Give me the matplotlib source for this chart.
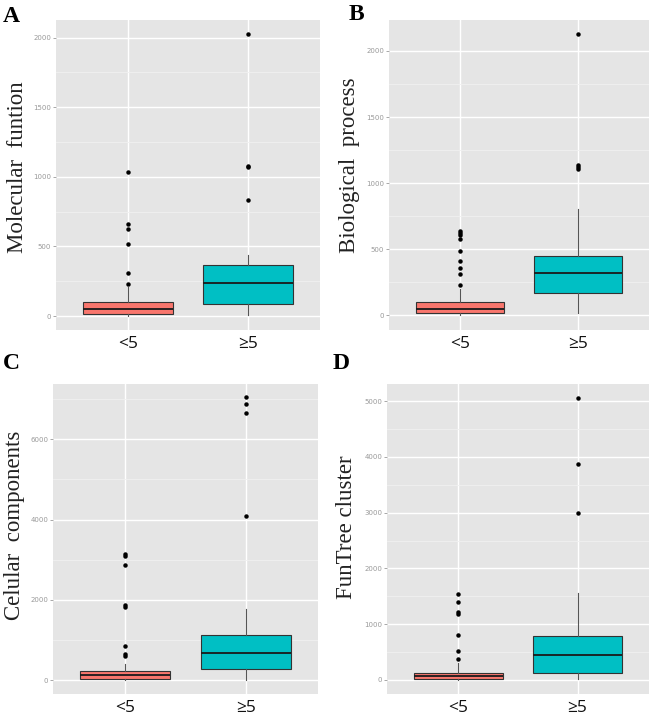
import matplotlib
matplotlib.use("Agg")
import matplotlib.pyplot as plt
from matplotlib.ticker import MultipleLocator

categories = ["<5", "≥5"]
colors = ["#F8766D", "#00BFC4"]

# Panel A: Molecular function
a_q1 = [12, 86]
a_med = [50, 237]
a_q3 = [98, 366]
a_whislo = [0, 7]
a_whishi = [208, 441]
a_fliers = [[1035, 665, 628, 518, 311, 230], [2025, 1075, 1068, 832]]

# Panel B: Biological process
b_q1 = [20, 169]
b_med = [50, 323]
b_q3 = [103, 451]
b_whislo = [0, 15]
b_whishi = [197, 802]
b_fliers = [[640, 625, 610, 580, 484, 411, 356, 313, 230], [2125, 1140, 1125, 1105]]

# Panel C: Celular components
c_q1 = [25, 283]
c_med = [125, 665]
c_q3 = [233, 1114]
c_whislo = [0, 0]
c_whishi = [400, 1770]
c_fliers = [[3150, 3100, 2875, 1870, 1812, 840, 656, 607], [7047, 6890, 6665, 4089]]

# Panel D: FunTree cluster
d_q1 = [12, 119]
d_med = [66, 454]
d_q3 = [131, 795]
d_whislo = [0, 18]
d_whishi = [305, 1553]
d_fliers = [[1547, 1404, 1220, 1180, 800, 514, 370], [5060, 3871, 2993]]

W, H = 652, 718
fig = plt.figure(figsize=(W / 100, H / 100), dpi=100)


def add_ax(x0, x1, y0, y1):
    return fig.add_axes([x0 / W, 1 - y1 / H, (x1 - x0) / W, (y1 - y0) / H])


def panel(ax, box, q1, med, q3, wlo, whi, fl, ylim, major, ylabel, labelx, labely):
    x0, x1, y0, y1 = box
    stats = []
    for i in range(2):
        stats.append(dict(q1=q1[i], med=med[i], q3=q3[i], whislo=wlo[i],
                          whishi=whi[i], fliers=fl[i]))
    ax.set_facecolor("#E5E5E5")
    ax.set_axisbelow(True)
    ax.yaxis.set_major_locator(MultipleLocator(major))
    ax.yaxis.set_minor_locator(MultipleLocator(major / 2))
    ax.grid(True, which="major", color="white", lw=1.0)
    ax.grid(True, which="minor", axis="y", color="#F0F0F0", lw=0.6)
    bp = ax.bxp(stats, positions=[1, 2], widths=0.75, patch_artist=True,
                showcaps=False,
                boxprops=dict(edgecolor="#333333", lw=0.8),
                medianprops=dict(color="#1a1a1a", lw=1.3),
                whiskerprops=dict(color="#555555", lw=0.8),
                flierprops=dict(marker="o", markerfacecolor="black",
                                markeredgecolor="black", markersize=2.2))
    for p, c in zip(bp["boxes"], colors):
        p.set_facecolor(c)
    ax.set_xlim(0.4, 2.6)
    ax.set_ylim(*ylim)
    ax.set_xticks([1, 2])
    ax.set_xticklabels(categories, fontsize=12.5, family="Open Sans",
                       color="#111111")
    for s in ax.spines.values():
        s.set_visible(False)
    ax.tick_params(axis="y", which="major", labelsize=5, colors="#999999",
                   length=2, width=0.6, pad=1.5)
    ax.tick_params(axis="y", which="minor", length=0)
    ax.tick_params(axis="x", length=0, pad=4)
    ax.set_ylabel(ylabel, family="Liberation Serif", fontsize=16.5,
                  color="#222222")
    ax.yaxis.label.set_va("center")
    ax.yaxis.set_label_coords((labelx - x0) / (x1 - x0),
                              (y1 - labely) / (y1 - y0))


boxA = (56, 320, 20, 330)
axA = add_ax(*boxA)
panel(axA, boxA, a_q1, a_med, a_q3, a_whislo, a_whishi, a_fliers, (-100, 2127), 500,
      "Molecular  funtion", 18, 167)

boxB = (389, 649, 20, 330)
axB = add_ax(*boxB)
panel(axB, boxB, b_q1, b_med, b_q3, b_whislo, b_whishi, b_fliers, (-111, 2234), 500,
      "Biological  process", 349, 165)

boxC = (53, 318, 384, 694)
axC = add_ax(*boxC)
panel(axC, boxC, c_q1, c_med, c_q3, c_whislo, c_whishi, c_fliers, (-349, 7380), 2000,
      "Celular  components", 15, 525)

boxD = (387, 649, 384, 694)
axD = add_ax(*boxD)
panel(axD, boxD, d_q1, d_med, d_q3, d_whislo, d_whishi, d_fliers, (-251, 5305), 1000,
      "FunTree cluster", 346, 527)

for lab, x, y in [("A", 3, 22), ("B", 349, 20), ("C", 3, 369), ("D", 333, 369)]:
    fig.text(x / W, 1 - y / H, lab, family="Liberation Serif",
             fontweight="bold", fontsize=17, va="baseline", ha="left")

fig.savefig("out.png", dpi=100)
